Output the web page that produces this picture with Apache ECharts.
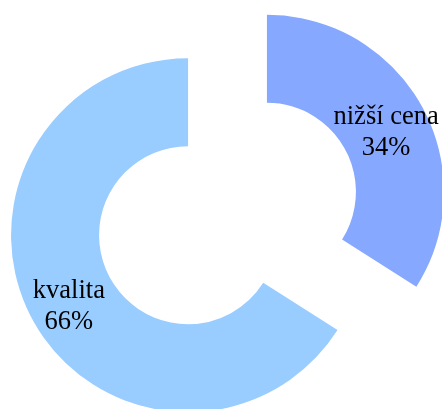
<!DOCTYPE html>
<html>
<head>
<meta charset="utf-8">
<script src="https://cdn.jsdelivr.net/npm/echarts@6/dist/echarts.min.js"></script>
<style>
  html, body { margin: 0; padding: 0; background: #ffffff; }
  #chart { width: 442px; height: 409px; }
</style>
</head>
<body>
<div id="chart"></div>
<script>
// Slice names, shares (%) and colours
const categories = ['nižší cena', 'kvalita'];
const shares = [34, 66];
const colors = ['#87a8ff', '#99ccff'];

const chart = echarts.init(document.getElementById('chart'), null, { renderer: 'canvas' });

const data = categories.map((name, i) => ({
  name: name,
  value: shares[i],
  selected: true,
  itemStyle: { color: colors[i] },
  select: { itemStyle: { color: colors[i] } }
}));

chart.setOption({
  animation: false,
  series: [{
    type: 'pie',
    center: [227.5, 213.5],
    radius: [89, 177],
    startAngle: 90,
    clockwise: true,
    selectedMode: 'multiple',
    selectedOffset: 45,
    avoidLabelOverlap: false,
    emphasis: { disabled: true },
    label: {
      show: true,
      position: 'inside',
      formatter: '{b}\n{d}%',
      color: '#000000',
      fontFamily: 'Liberation Serif',
      fontSize: 26.5,
      lineHeight: 31
    },
    labelLayout: { dy: 6 },
    labelLine: { show: false },
    itemStyle: { borderWidth: 0 },
    data: data
  }]
});
</script>
</body>
</html>
